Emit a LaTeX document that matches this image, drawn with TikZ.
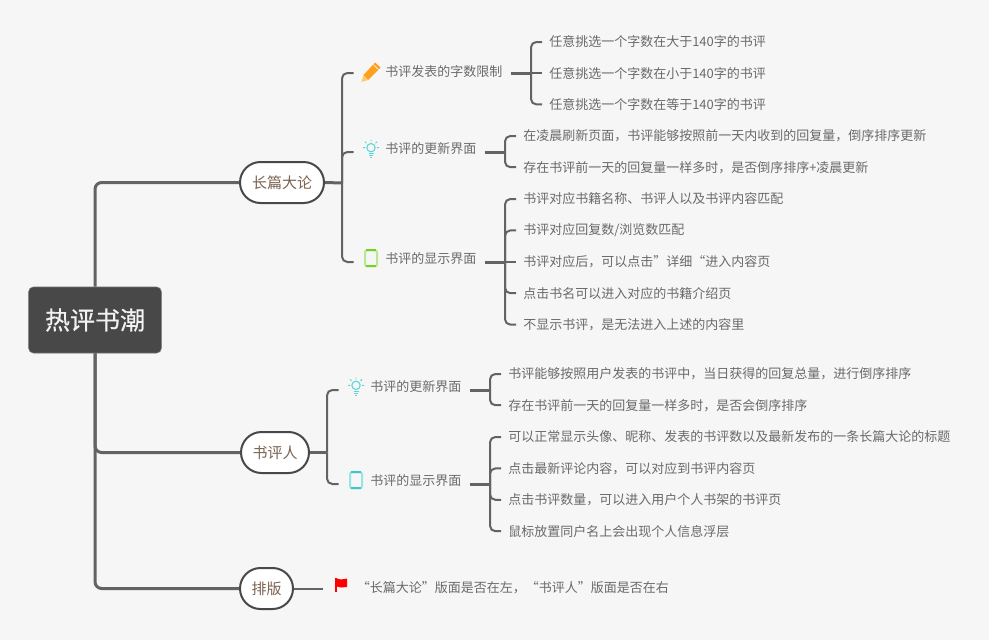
\documentclass[tikz,border=0pt]{standalone}
\usepackage{fontspec}
\setmainfont{Noto Sans CJK SC}
\newfontfamily\rootfont[FakeBold=0.5]{Noto Sans CJK SC}
\usepackage{xcolor}
\usetikzlibrary{shapes.misc,positioning}
\definecolor{pagebg}{HTML}{F6F6F6}
\definecolor{rootfill}{HTML}{484848}
\definecolor{linegray}{HTML}{636363}
\definecolor{pillbrown}{HTML}{7A6250}
\definecolor{textgray}{HTML}{6A6A6A}
\definecolor{bulbteal}{HTML}{5CD6D6}
\definecolor{tealdark}{HTML}{35C9C9}
\definecolor{greendark}{HTML}{72D026}
\definecolor{penorange}{HTML}{FF9F1C}
\definecolor{pentip}{HTML}{FFC870}
\tikzset{
  pencilicon/.pic={
    \fill[penorange] (-7.5,3) -- (4,-9.5) -- (9.5,-4.5) -- (-3,8) -- cycle;
    \fill[pentip] (-7.5,3) -- (-9.5,10) -- (-3,8) -- cycle;
    \draw[pagebg,line width=.5pt] (2.2,-7.5) -- (7.5,-2.5);
  },
  bulbicon/.pic={
    \draw[bulbteal,line width=.8pt] (0,-1) circle (4.2);
    \draw[bulbteal,line width=.8pt] (-2.5,5) -- (2.5,5) (-2,7) -- (2,7) (-1,9) -- (1,9);
    \draw[bulbteal,line width=.7pt] (0,-9) -- (0,-7) (-8,-1) -- (-6,-1) (8,-1) -- (6,-1)
      (-6,-7) -- (-4.5,-5.5) (6,-7) -- (4.5,-5.5);
  },
  tableticon/.pic={
    \draw[#1!50!white,line width=1.5pt,rounded corners=1.5pt] (-6,-8) rectangle (6,8);
    \draw[#1,line width=1.5pt] (-5,-8) -- (5,-8) (-5,8) -- (5,8);
  },
  flagicon/.pic={
    \fill[red] (-6,-7) rectangle (-4,7);
    \fill[red] (-4,-6.5) -- (0,-5.5) -- (6,-6.5) -- (6,2) -- (0,2.5) -- (-4,1.5) -- cycle;
  }
}
\begin{document}
\begin{tikzpicture}[
    x=0.75pt, y=-0.75pt,
    rootbox/.style={rectangle, fill=rootfill, draw=gray!70!rootfill, rounded corners=3.5pt, minimum width=99.5pt, minimum height=49.5pt, text=white!95!black, font=\rootfont\fontsize{18.75}{22}\selectfont},
    topic/.style={rounded rectangle, draw=rootfill, line width=1.5pt, fill=white, minimum height=30.75pt, inner xsep=0pt, text=pillbrown, font=\fontsize{11.25}{14}\selectfont},
    icon/.style={minimum width=25.5pt, minimum height=15pt, inner sep=0pt},
    sublabel/.style={inner xsep=6pt, inner ysep=0pt, minimum height=15pt, text=textgray, font=\fontsize{9.75}{12}\selectfont},
    leaf/.style={inner xsep=5.25pt, inner ysep=0pt, minimum height=15pt, text=textgray, font=\fontsize{9.75}{12}\selectfont},
    trunk/.style={draw=linegray, line width=2.25pt, rounded corners=5pt},
    limb/.style={draw=linegray, line width=1.5pt, rounded corners=4pt},
    stub/.style={draw=linegray, line width=2.25pt},
    twig/.style={draw=linegray, line width=1.5pt, rounded corners=4pt}
]
\useasboundingbox[fill=pagebg] (0,0) rectangle (989,640);

\node[rootbox] (root) at (95,320) {热评书潮};
\node[topic, minimum width=63pt] (longpost) at (282,182.5) {长篇大论};
\node[topic, minimum width=51pt] (reviewer) at (275,452.5) {书评人};
\node[topic, minimum width=39.75pt] (layout) at (266.5,588.5) {排版};

% long post branch
\node[icon] (penmark) at (371,73) {};
\node[sublabel, right=4.5pt of penmark.center, yshift=0.75pt] (lengthrule) {书评发表的字数限制};
\node[icon] (bulbmark) at (371,152) {};
\node[sublabel, right=4.5pt of bulbmark.center, yshift=2.25pt] (updatepage) {书评的更新界面};
\node[icon] (padmark) at (371,262) {};
\node[sublabel, right=4.5pt of padmark.center, yshift=2.25pt] (showpage) {书评的显示界面};

\coordinate (lengthbus) at (531,73);
\coordinate (updatebus) at (505,152);
\coordinate (showbus) at (505,262);

\node[leaf, anchor=west] (lengtha) at (542,42) {任意挑选一个字数在大于140字的书评};
\node[leaf, below=23.4pt of lengtha.west, anchor=west] (lengthb) {任意挑选一个字数在小于140字的书评};
\node[leaf, below=23.4pt of lengthb.west, anchor=west] (lengthc) {任意挑选一个字数在等于140字的书评};

\node[leaf, anchor=west] (updatea) at (516,136) {在凌晨刷新页面，书评能够按照前一天内收到的回复量，倒序排序更新};
\node[leaf, below=23.4pt of updatea.west, anchor=west] (updateb) {存在书评前一天的回复量一样多时，是否倒序排序+凌晨更新};

\node[leaf, anchor=west] (showa) at (516,199) {书评对应书籍名称、书评人以及书评内容匹配};
\node[leaf, below=23.55pt of showa.west, anchor=west] (showb) {书评对应回复数/浏览数匹配};
\node[leaf, below=23.55pt of showb.west, anchor=west] (showc) {书评对应后，可以点击”详细“进入内容页};
\node[leaf, below=23.55pt of showc.west, anchor=west] (showd) {点击书名可以进入对应的书籍介绍页};
\node[leaf, below=23.55pt of showd.west, anchor=west] (showe) {不显示书评，是无法进入上述的内容里};

% reviewer branch
\node[icon] (bulbmarkb) at (356,390) {};
\node[sublabel, right=4.5pt of bulbmarkb.center, yshift=2.75pt] (rankpage) {书评的更新界面};
\node[icon] (padmarkb) at (356,484) {};
\node[sublabel, right=4.5pt of padmarkb.center, yshift=2.75pt] (userpage) {书评的显示界面};

\coordinate (rankbus) at (490,390);
\coordinate (userbus) at (490,484);

\node[leaf, anchor=west] (ranka) at (501,374) {书评能够按照用户发表的书评中，当日获得的回复总量，进行倒序排序};
\node[leaf, below=23.4pt of ranka.west, anchor=west] (rankb) {存在书评前一天的回复量一样多时，是否会倒序排序};

\node[leaf, anchor=west] (usera) at (501,437) {可以正常显示头像、昵称、发表的书评数以及最新发布的一条长篇大论的标题};
\node[leaf, below=23.55pt of usera.west, anchor=west] (userb) {点击最新评论内容，可以对应到书评内容页};
\node[leaf, below=23.55pt of userb.west, anchor=west] (userc) {点击书评数量，可以进入用户个人书架的书评页};
\node[leaf, below=23.55pt of userc.west, anchor=west] (userd) {鼠标放置同户名上会出现个人信息浮层};

% layout branch
\node[icon, minimum width=27pt] (flagmark) at (341,585) {};
\node[leaf, anchor=west] (layoutnote) at (349.5,588) {“长篇大论”版面是否在左，“书评人”版面是否在右};

\pic[yshift=0.75pt] at (penmark) {pencilicon};
\pic[yshift=2.5pt] at (bulbmark) {bulbicon};
\pic[yshift=2.75pt] at (padmark) {tableticon=greendark};
\pic[yshift=2.75pt] at (bulbmarkb) {bulbicon};
\pic[yshift=2.75pt] at (padmarkb) {tableticon=tealdark};
\pic at (flagmark) {flagicon};

\draw[trunk] (root.north) |- (longpost.west);
\draw[trunk] (root.south) |- (reviewer.west);
\draw[trunk] (root.south) |- (layout.west);

\coordinate (longbus) at (342,183);
\coordinate (reviewbus) at (327,452.5);
\draw[stub] (longpost.east) -- (longbus);
\draw[limb] (longbus) |- (penmark.west);
\draw[limb] (longbus) -- (bulbmark.west -| longbus) -- (bulbmark.west);
\draw[limb] (longbus) |- (padmark.west);
\draw[stub] (reviewer.east) -- (reviewbus);
\draw[limb] (reviewbus) |- (bulbmarkb.west);
\draw[limb] (reviewbus) |- (padmarkb.west);
\draw[limb] (layout.east) -- (flagmark.west |- layout.east);

\draw[stub] (lengthrule.east |- lengthbus) -- (lengthbus);
\draw[twig] (lengthbus) |- (lengtha.west);
\draw[twig] (lengthbus) -- (lengthb.west |- lengthbus);
\draw[twig] (lengthbus) |- (lengthc.west);

\draw[stub] (updatepage.east |- updatebus) -- (updatebus);
\draw[twig] (updatebus) |- (updatea.west);
\draw[twig] (updatebus) |- (updateb.west);

\draw[stub] (showpage.east |- showbus) -- (showbus);
\draw[twig] (showbus) |- (showa.west);
\draw[twig] (showbus) |- (showb.west);
\draw[twig] (showbus) -- (showc.west |- showbus);
\draw[twig] (showbus) |- (showd.west);
\draw[twig] (showbus) |- (showe.west);

\draw[stub] (rankpage.east |- rankbus) -- (rankbus);
\draw[twig] (rankbus) |- (ranka.west);
\draw[twig] (rankbus) |- (rankb.west);

\draw[stub] (userpage.east |- userbus) -- (userbus);
\draw[twig] (userbus) |- (usera.west);
\draw[twig] (userbus) |- (userb.west);
\draw[twig] (userbus) |- (userc.west);
\draw[twig] (userbus) |- (userd.west);
\end{tikzpicture}
\end{document}
